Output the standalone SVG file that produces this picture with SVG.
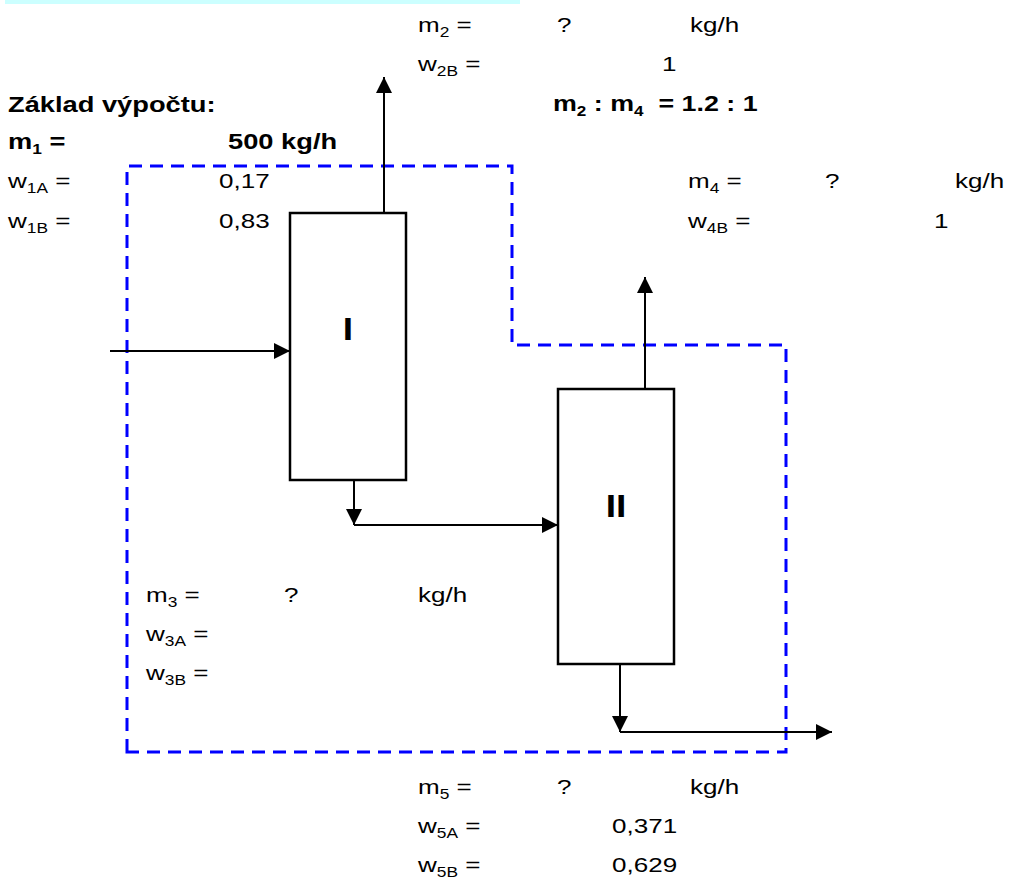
<svg xmlns="http://www.w3.org/2000/svg" width="1014" height="881" viewBox="0 0 1014 881">
  <style>
    text { font-family: "Liberation Sans", Arial, sans-serif; font-size: 21px; fill: #000; }
    .b { font-weight: bold; font-size: 22px; }
    .big { font-weight: bold; font-size: 31px; }
    .sub { font-size: 14px; }
    .pre { white-space: pre; }
    .unit { fill: #fff; stroke: #000; stroke-width: 2.5; }
    .conn { fill: none; stroke: #000; stroke-width: 2; }
    .boundary { fill: none; stroke: #0000ff; stroke-width: 3; stroke-dasharray: 13 8; }
  </style>
  <defs>
    <marker id="arrow" markerUnits="userSpaceOnUse" markerWidth="16" markerHeight="16" viewBox="0 0 16 16" refX="16" refY="8" orient="auto">
      <path d="M0,0 L16,8 L0,16 Z" fill="#000"/>
    </marker>
  </defs>

  <rect x="5" y="0" width="515" height="4" fill="#ccffff"/>

  <g id="boundary">
    <path class="boundary" d="M127,752 L127,166 L512,166 L512,345 L786,345 L786,752 Z"/>
  </g>

  <g id="unit-I">
    <rect class="unit" x="290" y="213" width="116" height="267"/>
    <text class="big" transform="translate(348,340) scale(1.2,1)" text-anchor="middle">I</text>
  </g>

  <g id="unit-II">
    <rect class="unit" x="558" y="389" width="116" height="275"/>
    <text class="big" transform="translate(616,517) scale(1.2,1)" text-anchor="middle">II</text>
  </g>

  <g id="connectors">
    <line class="conn" x1="110" y1="351" x2="290" y2="351" marker-end="url(#arrow)"/>
    <line class="conn" x1="384" y1="213" x2="384" y2="77" marker-end="url(#arrow)"/>
    <line class="conn" x1="354" y1="480" x2="354" y2="525" marker-end="url(#arrow)"/>
    <line class="conn" x1="354" y1="525" x2="558" y2="525" marker-end="url(#arrow)"/>
    <line class="conn" x1="645" y1="389" x2="645" y2="277" marker-end="url(#arrow)"/>
    <line class="conn" x1="620" y1="664" x2="620" y2="732" marker-end="url(#arrow)"/>
    <line class="conn" x1="620" y1="732" x2="832" y2="732" marker-end="url(#arrow)"/>
  </g>

  <g id="stream-1">
    <text class="b" transform="translate(8,112) scale(1.24,1)">Základ výpočtu:</text>
    <text class="b" transform="translate(8,149) scale(1.24,1)">m<tspan class="sub" dy="5">1</tspan><tspan dy="-5"> =</tspan></text>
    <text class="b" transform="translate(228,149) scale(1.24,1)">500 kg/h</text>
    <text transform="translate(8,188) scale(1.24,1)">w<tspan class="sub" dy="5">1A</tspan><tspan dy="-5"> =</tspan></text>
    <text transform="translate(219,188) scale(1.24,1)">0,17</text>
    <text transform="translate(8,228) scale(1.24,1)">w<tspan class="sub" dy="5">1B</tspan><tspan dy="-5"> =</tspan></text>
    <text transform="translate(219,228) scale(1.24,1)">0,83</text>
  </g>

  <g id="stream-2">
    <text transform="translate(418,32) scale(1.24,1)">m<tspan class="sub" dy="5">2</tspan><tspan dy="-5"> =</tspan></text>
    <text transform="translate(557,32) scale(1.24,1)">?</text>
    <text transform="translate(690,32) scale(1.24,1)">kg/h</text>
    <text transform="translate(418,71) scale(1.24,1)">w<tspan class="sub" dy="5">2B</tspan><tspan dy="-5"> =</tspan></text>
    <text transform="translate(662,71) scale(1.24,1)">1</text>
  </g>

  <g id="ratio">
    <text class="b pre" transform="translate(553,111) scale(1.22,1)">m<tspan class="sub" dy="5">2</tspan><tspan dy="-5"> : m</tspan><tspan class="sub" dy="5">4</tspan><tspan dy="-5">  = 1.2 : 1</tspan></text>
  </g>

  <g id="stream-4">
    <text transform="translate(688,188) scale(1.24,1)">m<tspan class="sub" dy="5">4</tspan><tspan dy="-5"> =</tspan></text>
    <text transform="translate(825,188) scale(1.24,1)">?</text>
    <text transform="translate(955,188) scale(1.24,1)">kg/h</text>
    <text transform="translate(688,228) scale(1.24,1)">w<tspan class="sub" dy="5">4B</tspan><tspan dy="-5"> =</tspan></text>
    <text transform="translate(934,228) scale(1.24,1)">1</text>
  </g>

  <g id="stream-3">
    <text transform="translate(146,602) scale(1.24,1)">m<tspan class="sub" dy="5">3</tspan><tspan dy="-5"> =</tspan></text>
    <text transform="translate(284,602) scale(1.24,1)">?</text>
    <text transform="translate(418,602) scale(1.24,1)">kg/h</text>
    <text transform="translate(146,641) scale(1.24,1)">w<tspan class="sub" dy="5">3A</tspan><tspan dy="-5"> =</tspan></text>
    <text transform="translate(146,680) scale(1.24,1)">w<tspan class="sub" dy="5">3B</tspan><tspan dy="-5"> =</tspan></text>
  </g>

  <g id="stream-5">
    <text transform="translate(418,794) scale(1.24,1)">m<tspan class="sub" dy="5">5</tspan><tspan dy="-5"> =</tspan></text>
    <text transform="translate(557,794) scale(1.24,1)">?</text>
    <text transform="translate(690,794) scale(1.24,1)">kg/h</text>
    <text transform="translate(418,833) scale(1.24,1)">w<tspan class="sub" dy="5">5A</tspan><tspan dy="-5"> =</tspan></text>
    <text transform="translate(612,833) scale(1.24,1)">0,371</text>
    <text transform="translate(418,872) scale(1.24,1)">w<tspan class="sub" dy="5">5B</tspan><tspan dy="-5"> =</tspan></text>
    <text transform="translate(612,872) scale(1.24,1)">0,629</text>
  </g>
</svg>
